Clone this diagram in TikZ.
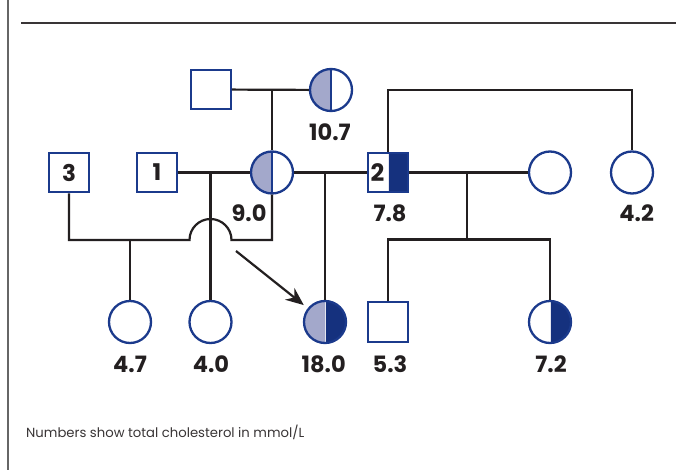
\documentclass[tikz,border=0pt]{standalone}
\usepackage{fontspec}
\setmainfont{Poppins}
\usetikzlibrary{arrows.meta}
\definecolor{pedblue}{HTML}{1B3A8C}
\definecolor{pedfill}{HTML}{15317E}
\definecolor{pedgrey}{HTML}{A3A8CB}
\definecolor{pedline}{HTML}{231F20}

\begin{document}
\begin{tikzpicture}[x=1pt,y=-1pt,
		male/.style={rectangle,draw=pedblue,fill=white,line width=2.3pt,minimum size=39.5pt,inner sep=0pt,
			text=pedline,font=\bfseries\fontsize{23}{23}\selectfont},
		female/.style={circle,draw=pedblue,fill=white,line width=2.3pt,minimum size=42pt,inner sep=0pt},
		greyhalf/.style={path picture={
				\fill[pedgrey] (path picture bounding box.south west) rectangle (path picture bounding box.north);
				\draw[pedblue,line width=2pt] (path picture bounding box.south) -- (path picture bounding box.north);}},
		bluehalf/.style={path picture={
				\fill[pedfill] (path picture bounding box.south) rectangle (path picture bounding box.north east);
				\draw[white!70!pedgrey,line width=0.8pt] (path picture bounding box.south) -- (path picture bounding box.north);}},
		bothhalf/.style={path picture={
				\fill[pedgrey] (path picture bounding box.south west) rectangle (path picture bounding box.north);
				\fill[pedfill] (path picture bounding box.south) rectangle (path picture bounding box.north east);
				\draw[white!70!pedgrey,line width=0.8pt] (path picture bounding box.south) -- (path picture bounding box.north);}},
		val/.style={inner sep=0pt,text=pedline,font=\bfseries\fontsize{22.5}{22.5}\selectfont},
		pline/.style={draw=pedline,line width=2.2pt}
	]
	\useasboundingbox[fill=white] (0,0) rectangle (676,470);
	\draw[gray!80!black,line width=1.2pt] (8,0) -- (8,470);
	\draw[pedline!90!white,line width=2.6pt] (21,23) -- (676,23);

	% first generation
	\node[male] (gfa) at (211,89.5) {};
	\node[female,greyhalf] (gmo) at (331,90) {};
	\node[val] (v107) at (330,132) {10.7};

	% second generation
	\node[male] (p3) at (69,172.5) {3};
	\node[male] (p1) at (157,172.5) {1};
	\node[female,greyhalf] (mo) at (272,172.5) {};
	\node[val] (v90) at (249,213.4) {9.0};
	\node[male,bluehalf,label={[text=pedline,font=\bfseries\fontsize{24}{24}\selectfont]center:\hspace*{-21pt}2}] (p2) at (388,172.5) {};
	\node[val] (v78) at (390,213) {7.8};
	\node[female] (wife) at (550,172.5) {};
	\node[female] (sis) at (632,172.5) {};
	\node[val] (v42) at (636.7,213) {4.2};

	% third generation
	\node[female] (d47) at (130,322) {};
	\node[val] (v47) at (130,364) {4.7};
	\node[female] (d40) at (210.5,322) {};
	\node[val] (v40) at (211,364) {4.0};
	\node[female,bothhalf] (prob) at (325,322) {};
	\node[val] (v180) at (323.7,364) {18.0};
	\node[male] (s53) at (388,322) {};
	\node[val] (v53) at (390,364) {5.3};
	\node[female,bluehalf] (d72) at (550,322) {};
	\node[val] (v72) at (551,364) {7.2};

	% lines of descent
	\coordinate (top) at (272,90);
	\coordinate (m1) at (210.5,172.5);
	\coordinate (m2) at (325,172.5);
	\coordinate (m3) at (466.7,172.5);
	\coordinate (sib3) at (466.7,239.5);
	\coordinate (hop) at (189.5,240);
	\coordinate (arr) at (236,251);

	\draw[pline] (gfa) -- (gmo);
	\draw[pline] (top) -- (mo);
	\draw[pline] (p1) -- (mo);
	\draw[pline] (m1) -- (d40);
	\draw[pline] (mo) -- (p2);
	\draw[pline] (m2) -- (prob);
	\draw[pline] (p2) -- (wife);
	\draw[pline] (p2.north) -- (388,90) -| (sis.north);
	\draw[pline] (p3.south) |- (hop) arc[start angle=180,end angle=360,radius=21] -| (mo.south);
	\draw[pline] (130,240) -- (d47);
	\draw[pline] (m3) -- (sib3);
	\draw[pline] (s53.north) |- (sib3) -| (d72.north);
	\draw[draw=pedline,line width=2.2pt,-{Stealth[length=18pt,width=15pt]},shorten >=5pt] (arr) -- (prob);

	\node[anchor=west,inner sep=0pt,text=pedline!90!white,font=\fontsize{13.2}{13.2}\selectfont] (note) at (26,432)
	{Numbers show total cholesterol in mmol/L};
\end{tikzpicture}
\end{document}
